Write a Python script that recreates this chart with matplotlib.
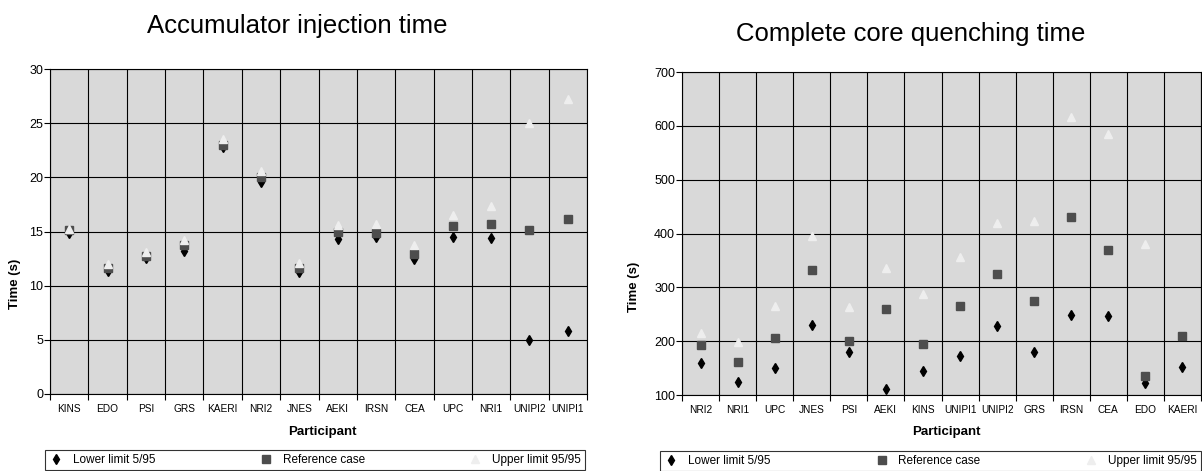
import numpy as np
import matplotlib
matplotlib.use('Agg')
import matplotlib.pyplot as plt

plt.rcParams['font.family'] = ['Liberation Sans', 'DejaVu Sans']

# Accumulator injection time (s)
acc_participants = ['KINS', 'EDO', 'PSI', 'GRS', 'KAERI', 'NRI2', 'JNES',
                    'AEKI', 'IRSN', 'CEA', 'UPC', 'NRI1', 'UNIPI2', 'UNIPI1']
acc_lower = [14.9, 11.4, 12.6, 13.2, 22.8, 19.6, 11.3, 14.3, 14.5, 12.5, 14.5, 14.4, 5.0, 5.8]
acc_ref = [15.1, 11.6, 12.7, 13.8, 23.0, 20.0, 11.6, 15.0, 14.9, 12.9, 15.5, 15.7, 15.1, 16.2]
acc_upper = [15.2, 12.0, 13.1, 14.2, 23.5, 20.6, 12.1, 15.6, 15.7, 13.8, 16.5, 17.4, 25.0, 27.2]

# Complete core quenching time (s)
qch_participants = ['NRI2', 'NRI1', 'UPC', 'JNES', 'PSI', 'AEKI', 'KINS',
                    'UNIPI1', 'UNIPI2', 'GRS', 'IRSN', 'CEA', 'EDO', 'KAERI']
qch_lower = [159, 125, 150, 230, 179, 112, 145, 172, 228, 179, 249, 247, 123, 152]
qch_ref = [192, 162, 205, 332, 200, 259, 195, 265, 324, 274, 431, 370, 135, 210]
qch_upper = [215, 199, 266, 396, 264, 336, 287, 357, 420, 424, 617, 584, 380, np.nan]

series_labels = ['Lower limit 5/95', 'Reference case', 'Upper limit 95/95']

W, H = 1202, 471
fig = plt.figure(figsize=(W / 100, H / 100), dpi=100)


def px_box(x0, y0, x1, y1):
    """pixel box (top-left origin) -> figure fraction rect"""
    return [x0 / W, 1 - y1 / H, (x1 - x0) / W, (y1 - y0) / H]


def draw_panel(rect, names, lower, ref, upper, ylim, ystep,
               ylab_xy, xlab_xy, leg_box):
    ax = fig.add_axes(rect)
    ax.set_facecolor('#d9d9d9')
    x = np.arange(len(names))
    ax.plot(x, lower, linestyle='none', marker='d', ms=5, color='black',
            label=series_labels[0], zorder=3)
    ax.plot(x, ref, linestyle='none', marker='s', ms=5.8, color='#4d4d4d',
            label=series_labels[1], zorder=4)
    ax.plot(x, upper, linestyle='none', marker='^', ms=6.3, color='#eeeeee',
            label=series_labels[2], zorder=5)

    ax.set_xlim(-0.5, len(names) - 0.5)
    ax.set_ylim(*ylim)
    ax.set_xticks(x)
    ax.set_xticklabels(names, fontsize=7.3)
    ax.set_xticks(np.arange(-0.5, len(names), 1), minor=True)
    ax.set_yticks(np.arange(ylim[0], ylim[1] + 1, ystep))
    ax.tick_params(axis='y', labelsize=9, length=4, width=0.8, pad=1)
    ax.tick_params(axis='x', which='major', length=0, pad=7)
    ax.tick_params(axis='x', which='minor', length=4, width=0.8)
    ax.grid(axis='y', which='major', color='black', lw=0.8)
    ax.grid(axis='x', which='minor', color='black', lw=0.8)
    ax.set_axisbelow(True)
    for s in ax.spines.values():
        s.set_color('black')
        s.set_linewidth(0.8)

    ax.set_ylabel('Time (s)', fontsize=9.5, fontweight='bold')
    ax.yaxis.set_label_coords(*ylab_xy)
    ax.yaxis.label.set_va('center')
    ax.set_xlabel('Participant', fontsize=9.5, fontweight='bold')
    ax.xaxis.set_label_coords(*xlab_xy)
    ax.xaxis.label.set_va('center')

    lx0, ly0, lx1 = leg_box
    leg = ax.legend(loc='upper left',
                    bbox_to_anchor=(lx0 / W, 1 - ly0 / H, (lx1 - lx0) / W, 0),
                    bbox_transform=fig.transFigure, mode='expand', ncol=3,
                    fontsize=8.5, frameon=True, fancybox=False,
                    edgecolor='black', borderaxespad=0, borderpad=0.35,
                    handlelength=1.2, handletextpad=0.8, numpoints=1)
    leg.get_frame().set_linewidth(0.8)
    return ax


# left panel: plot area 50..587 x 69..394 px
draw_panel(px_box(50, 69, 587, 394), acc_participants, acc_lower, acc_ref,
           acc_upper, (0, 30), 5,
           ylab_xy=(-0.065, 0.34), xlab_xy=(0.508, -0.117),
           leg_box=(45, 450, 585))
fig.text(297 / W, 1 - 26 / H, 'Accumulator injection time', fontsize=18.5,
         ha='center', va='center')

# right panel: plot area 682..1201 x 72..395 px
draw_panel(px_box(682, 72, 1201, 395), qch_participants, qch_lower, qch_ref,
           qch_upper, (100, 700), 100,
           ylab_xy=(-0.0925, 0.334), xlab_xy=(0.509, -0.114),
           leg_box=(660, 451, 1201))
fig.text(911 / W, 1 - 34 / H, 'Complete core quenching time', fontsize=18.5,
         ha='center', va='center')

fig.savefig('out.png', dpi=100)
